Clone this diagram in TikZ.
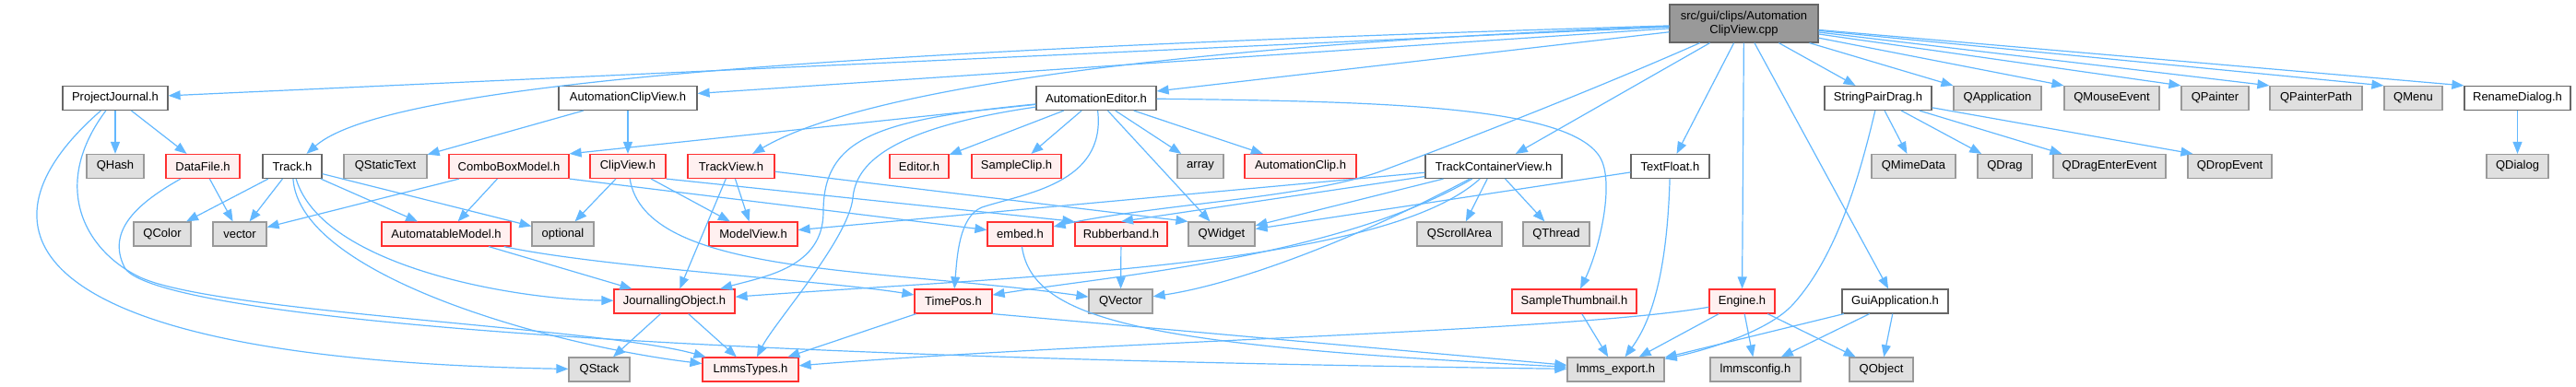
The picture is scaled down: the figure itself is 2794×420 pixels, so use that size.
\documentclass[tikz,border=0pt]{standalone}
\usepackage{fontspec}
\setmainfont{Liberation Sans}
\usetikzlibrary{arrows.meta}
\definecolor{edgecol}{HTML}{63B8FF}
\definecolor{wborder}{HTML}{666666}
\definecolor{gfill}{HTML}{E0E0E0}
\definecolor{gborder}{HTML}{999999}
\definecolor{rfill}{HTML}{FFF0F0}
\definecolor{rborder}{HTML}{FF3030}
\definecolor{cppfill}{HTML}{999999}
\tikzset{
 box/.style={draw, rectangle, inner sep=0pt, minimum height=26pt, line width=1.2pt, font=\fontsize{13}{15.5}\selectfont, text=black},
 wbox/.style={box, fill=white, draw=wborder},
 gbox/.style={box, fill=gfill, draw=gborder},
 rbox/.style={box, fill=rfill, draw=rborder},
 conn/.style={draw=edgecol, line width=1.2pt, -{Triangle[length=13pt,width=10pt]}},
}
\begin{document}
\begin{tikzpicture}[x=1pt,y=-1pt]
\useasboundingbox (0,0) rectangle (2794,420);
% row 0
\node[box, fill=cppfill, draw=wborder, minimum width=161pt, minimum height=41pt, align=center] (cpp) at (1891.5,25.5) {src/gui/clips/Automation\\ClipView.cpp};
% row 1
\node[wbox, minimum width=114pt] (pj) at (125,106.5) {ProjectJournal.h};
\node[wbox, minimum width=150pt] (acv) at (681,106.5) {AutomationClipView.h};
\node[wbox, minimum width=130pt] (ae) at (1189,106.5) {AutomationEditor.h};
\node[wbox, minimum width=116pt] (spd) at (2037,106.5) {StringPairDrag.h};
\node[gbox, minimum width=95pt] (qapp) at (2166.5,106.5) {QApplication};
\node[gbox, minimum width=103pt] (qme) at (2290.5,106.5) {QMouseEvent};
\node[gbox, minimum width=73pt] (qp) at (2402.5,106.5) {QPainter};
\node[gbox, minimum width=100pt] (qpp) at (2512,106.5) {QPainterPath};
\node[gbox, minimum width=63pt] (qmenu) at (2617.5,106.5) {QMenu};
\node[wbox, minimum width=115pt] (rd) at (2730.5,106.5) {RenameDialog.h};
% row 2
\node[gbox, minimum width=62pt] (qhash) at (125,180.5) {QHash};
\node[rbox, minimum width=80pt] (df) at (220,180.5) {DataFile.h};
\node[wbox, minimum width=64pt] (track) at (317,180.5) {Track.h};
\node[gbox, minimum width=90pt] (qst) at (418,180.5) {QStaticText};
\node[rbox, minimum width=130pt] (cbm) at (552,180.5) {ComboBoxModel.h};
\node[rbox, minimum width=82pt] (cv) at (681,180.5) {ClipView.h};
\node[rbox, minimum width=94pt] (tv) at (793,180.5) {TrackView.h};
\node[rbox, minimum width=64pt] (ed) at (997,180.5) {Editor.h};
\node[rbox, minimum width=97pt] (sc) at (1102.5,180.5) {SampleClip.h};
\node[gbox, minimum width=50pt] (arr) at (1302,180.5) {array};
\node[rbox, minimum width=121pt] (ac) at (1410.5,180.5) {AutomationClip.h};
\node[wbox, minimum width=148pt] (tcv) at (1620,180.5) {TrackContainerView.h};
\node[wbox, minimum width=85pt] (tf) at (1811.5,180.5) {TextFloat.h};
\node[gbox, minimum width=91pt] (qmd) at (2075.5,180.5) {QMimeData};
\node[gbox, minimum width=59pt] (qdrag) at (2174.5,180.5) {QDrag};
\node[gbox, minimum width=122pt] (qdee) at (2288,180.5) {QDragEnterEvent};
\node[gbox, minimum width=91pt] (qde) at (2418.5,180.5) {QDropEvent};
\node[gbox, minimum width=67pt] (qdlg) at (2730.5,180.5) {QDialog};
% row 3
\node[gbox, minimum width=62pt] (qcolor) at (176,254) {QColor};
\node[gbox, minimum width=58pt] (vec) at (260,254) {vector};
\node[rbox, minimum width=140pt] (am) at (484,254) {AutomatableModel.h};
\node[gbox, minimum width=67pt] (opt) at (610.5,254) {optional};
\node[rbox, minimum width=96pt] (mv) at (817,254) {ModelView.h};
\node[rbox, minimum width=71pt] (emb) at (1106.5,254) {embed.h};
\node[rbox, minimum width=100pt] (rb) at (1216,254) {Rubberband.h};
\node[gbox, minimum width=72pt] (qw) at (1325,254) {QWidget};
\node[gbox, minimum width=92pt] (qsa) at (1583,254) {QScrollArea};
\node[gbox, minimum width=72pt] (qth) at (1688,254) {QThread};
% row 4
\node[rbox, minimum width=131pt] (jo) at (731.5,327) {JournallingObject.h};
\node[rbox, minimum width=84pt] (tp) at (1034,327) {TimePos.h};
\node[gbox, minimum width=69pt] (qvec) at (1215.5,327) {QVector};
\node[rbox, minimum width=135pt] (st) at (1707.5,327) {SampleThumbnail.h};
\node[rbox, minimum width=71pt] (eng) at (1889.5,327) {Engine.h};
\node[wbox, minimum width=115pt] (gui) at (2055.5,327) {GuiApplication.h};
% row 5
\node[gbox, minimum width=66pt] (qstack) at (650,401) {QStack};
\node[rbox, minimum width=104pt] (lt) at (814,401) {LmmsTypes.h};
\node[gbox, minimum width=105pt] (le) at (1752.5,401) {lmms\_export.h};
\node[gbox, minimum width=98pt] (lc) at (1904,401) {lmmsconfig.h};
\node[gbox, minimum width=69pt] (qobj) at (2040.5,401) {QObject};

% cpp
\draw[conn] (cpp) -- (pj);
\draw[conn] (cpp) -- (acv);
\draw[conn] (cpp) -- (ae);
\draw[conn] (cpp) .. controls (900,55) and (420,90) .. (track);
\draw[conn] (cpp) .. controls (1250,50) and (930,100) .. (tv);
\draw[conn] (cpp) .. controls (1700,110) and (1540,170) .. (1500,185) .. controls (1420,215) and (1250,222) .. (emb);
\draw[conn] (cpp) -- (tcv);
\draw[conn] (cpp) -- (tf);
\draw[conn] (cpp) -- (eng);
\draw[conn] (cpp) -- (gui);
\draw[conn] (cpp) -- (spd);
\draw[conn] (cpp) -- (qapp.north west);
\draw[conn] (cpp) -- (qme.north west);
\draw[conn] (cpp) -- (qp.north west);
\draw[conn] (cpp) -- (qpp.north west);
\draw[conn] (cpp) -- (qmenu.north west);
\draw[conn] (cpp) -- (rd.north west);
% ProjectJournal
\draw[conn] (pj) -- (qhash);
\draw[conn] (pj) -- (df);
\draw[conn] (pj) .. controls (-40,250) and (20,390) .. (qstack);
\draw[conn] (pj) .. controls (55,200) and (90,270) .. (150,300) .. controls (228,339) and (650,355) .. (lt);
% DataFile
\draw[conn] (df) -- (vec);
\draw[conn] (df) .. controls (150,220) and (115,250) .. (135,290) .. controls (155,330) and (500,385) .. (le);
% Track
\draw[conn] (track) -- (qcolor);
\draw[conn] (track) -- (vec);
\draw[conn] (track) -- (am);
\draw[conn] (track) -- (opt);
\draw[conn] (track) .. controls (350,290) and (560,325) .. (jo);
\draw[conn] (track) .. controls (325,300) and (600,375) .. (lt);
% AutomationClipView
\draw[conn] (acv) -- (qst);
\draw[conn] (acv) -- (cv);
% ComboBoxModel
\draw[conn] (cbm) -- (vec);
\draw[conn] (cbm) -- (am);
\draw[conn] (cbm.south east) -- (emb);
% ClipView
\draw[conn] (cv) -- (opt);
\draw[conn] (cv) -- (mv);
\draw[conn] (cv.south east) -- (rb.north west);
\draw[conn] (cv) .. controls (700,300) and (950,290) .. (qvec);
% TrackView
\draw[conn] (tv) -- (jo);
\draw[conn] (tv) -- (mv);
\draw[conn] (tv) -- (qw.north west);
% AutomationEditor
\draw[conn] (ae) -- (cbm.north east);
\draw[conn] (ae) .. controls (950,130) and (893,150) .. (893,230) .. controls (893,290) and (830,300) .. (jo);
\draw[conn] (ae) .. controls (960,140) and (928,180) .. (925,215) .. controls (920,260) and (840,350) .. (lt);
\draw[conn] (ae) -- (ed);
\draw[conn] (ae) -- (sc);
\draw[conn] (ae) -- (arr);
\draw[conn] (ae) -- (ac);
\draw[conn] (ae) .. controls (1200,200) and (1110,210) .. (1065,225) .. controls (1040,235) and (1038,280) .. (tp);
\draw[conn] (ae) -- (qw);
\draw[conn] (ae) .. controls (1500,110) and (1700,115) .. (1735,170) .. controls (1752,197) and (1735,270) .. (st);
% AutomatableModel
\draw[conn] (am) -- (jo);
\draw[conn] (am) .. controls (650,290) and (900,305) .. (tp);
% JournallingObject
\draw[conn] (jo) -- (qstack);
\draw[conn] (jo) -- (lt);
% TimePos
\draw[conn] (tp) -- (lt);
\draw[conn] (tp.south east) -- (le);
% embed
\draw[conn] (emb) .. controls (1120,350) and (1250,375) .. (le);
% Rubberband
\draw[conn] (rb) -- (qvec);
% TrackContainerView
\draw[conn] (tcv) -- (mv);
\draw[conn] (tcv) -- (rb.north);
\draw[conn] (tcv) -- (qw);
\draw[conn] (tcv) -- (qsa);
\draw[conn] (tcv) -- (qth);
\draw[conn] (tcv) .. controls (1500,290) and (1100,300) .. (jo);
\draw[conn] (tcv) .. controls (1450,280) and (1200,300) .. (tp);
\draw[conn] (tcv) .. controls (1450,270) and (1330,310) .. (qvec);
% TextFloat
\draw[conn] (tf) -- (qw);
\draw[conn] (tf) .. controls (1808,300) and (1790,350) .. (le);
% SampleThumbnail
\draw[conn] (st) -- (le);
% Engine
\draw[conn] (eng) .. controls (1700,360) and (1200,370) .. (lt);
\draw[conn] (eng) -- (le);
\draw[conn] (eng) -- (lc);
\draw[conn] (eng) -- (qobj);
% GuiApplication
\draw[conn] (gui) -- (le);
\draw[conn] (gui) -- (lc);
\draw[conn] (gui) -- (qobj);
% StringPairDrag
\draw[conn] (spd) -- (qmd);
\draw[conn] (spd) -- (qdrag);
\draw[conn] (spd) -- ([xshift=10pt]qdee.north west);
\draw[conn] (spd) -- ([xshift=6pt]qde.north west);
\draw[conn] (spd) .. controls (2015,200) and (1990,280) .. (1945,330) .. controls (1918,360) and (1850,380) .. (le);
% RenameDialog
\draw[conn] (rd) -- (qdlg);
\end{tikzpicture}
\end{document}
